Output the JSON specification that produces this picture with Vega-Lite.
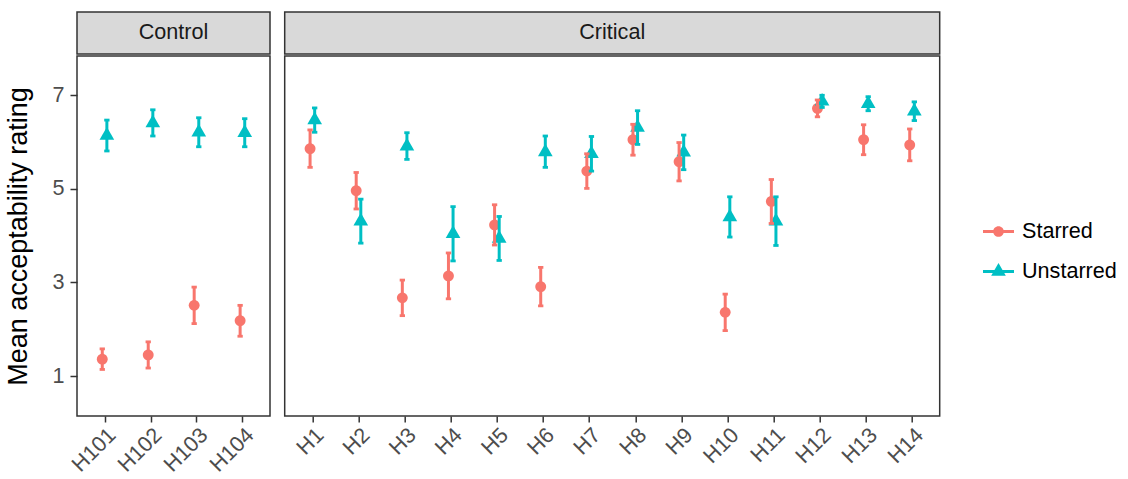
{
  "$schema": "https://vega.github.io/schema/vega-lite/v6.json",
  "padding": {"left": 4, "top": 11, "right": 5, "bottom": 5},
  "background": "white",
  "data": {"values": [
    {"panel": "Control", "item": "H101", "type": "Starred", "mean": 1.36, "lo": 1.14, "hi": 1.58},
    {"panel": "Control", "item": "H101", "type": "Unstarred", "mean": 6.14, "lo": 5.81, "hi": 6.47},
    {"panel": "Control", "item": "H102", "type": "Starred", "mean": 1.45, "lo": 1.17, "hi": 1.73},
    {"panel": "Control", "item": "H102", "type": "Unstarred", "mean": 6.41, "lo": 6.13, "hi": 6.69},
    {"panel": "Control", "item": "H103", "type": "Starred", "mean": 2.51, "lo": 2.12, "hi": 2.90},
    {"panel": "Control", "item": "H103", "type": "Unstarred", "mean": 6.21, "lo": 5.90, "hi": 6.52},
    {"panel": "Control", "item": "H104", "type": "Starred", "mean": 2.18, "lo": 1.85, "hi": 2.51},
    {"panel": "Control", "item": "H104", "type": "Unstarred", "mean": 6.20, "lo": 5.90, "hi": 6.50},
    {"panel": "Critical", "item": "H1", "type": "Starred", "mean": 5.86, "lo": 5.46, "hi": 6.26},
    {"panel": "Critical", "item": "H1", "type": "Unstarred", "mean": 6.47, "lo": 6.21, "hi": 6.73},
    {"panel": "Critical", "item": "H2", "type": "Starred", "mean": 4.96, "lo": 4.57, "hi": 5.35},
    {"panel": "Critical", "item": "H2", "type": "Unstarred", "mean": 4.31, "lo": 3.84, "hi": 4.78},
    {"panel": "Critical", "item": "H3", "type": "Starred", "mean": 2.67, "lo": 2.29, "hi": 3.05},
    {"panel": "Critical", "item": "H3", "type": "Unstarred", "mean": 5.91, "lo": 5.63, "hi": 6.20},
    {"panel": "Critical", "item": "H4", "type": "Starred", "mean": 3.14, "lo": 2.65, "hi": 3.63},
    {"panel": "Critical", "item": "H4", "type": "Unstarred", "mean": 4.04, "lo": 3.46, "hi": 4.62},
    {"panel": "Critical", "item": "H5", "type": "Starred", "mean": 4.23, "lo": 3.80, "hi": 4.66},
    {"panel": "Critical", "item": "H5", "type": "Unstarred", "mean": 3.94, "lo": 3.47, "hi": 4.41},
    {"panel": "Critical", "item": "H6", "type": "Starred", "mean": 2.91, "lo": 2.50, "hi": 3.32},
    {"panel": "Critical", "item": "H6", "type": "Unstarred", "mean": 5.79, "lo": 5.46, "hi": 6.13},
    {"panel": "Critical", "item": "H7", "type": "Starred", "mean": 5.38, "lo": 5.01, "hi": 5.75},
    {"panel": "Critical", "item": "H7", "type": "Unstarred", "mean": 5.75, "lo": 5.38, "hi": 6.12},
    {"panel": "Critical", "item": "H8", "type": "Starred", "mean": 6.05, "lo": 5.72, "hi": 6.38},
    {"panel": "Critical", "item": "H8", "type": "Unstarred", "mean": 6.31, "lo": 5.95, "hi": 6.67},
    {"panel": "Critical", "item": "H9", "type": "Starred", "mean": 5.58, "lo": 5.17, "hi": 5.99},
    {"panel": "Critical", "item": "H9", "type": "Unstarred", "mean": 5.78, "lo": 5.41, "hi": 6.15},
    {"panel": "Critical", "item": "H10", "type": "Starred", "mean": 2.36, "lo": 1.97, "hi": 2.75},
    {"panel": "Critical", "item": "H10", "type": "Unstarred", "mean": 4.40, "lo": 3.97, "hi": 4.83},
    {"panel": "Critical", "item": "H11", "type": "Starred", "mean": 4.73, "lo": 4.26, "hi": 5.20},
    {"panel": "Critical", "item": "H11", "type": "Unstarred", "mean": 4.31, "lo": 3.79, "hi": 4.83},
    {"panel": "Critical", "item": "H12", "type": "Starred", "mean": 6.72, "lo": 6.54, "hi": 6.90},
    {"panel": "Critical", "item": "H12", "type": "Unstarred", "mean": 6.87, "lo": 6.74, "hi": 7.00},
    {"panel": "Critical", "item": "H13", "type": "Starred", "mean": 6.05, "lo": 5.73, "hi": 6.37},
    {"panel": "Critical", "item": "H13", "type": "Unstarred", "mean": 6.82, "lo": 6.67, "hi": 6.97},
    {"panel": "Critical", "item": "H14", "type": "Starred", "mean": 5.94, "lo": 5.60, "hi": 6.28},
    {"panel": "Critical", "item": "H14", "type": "Unstarred", "mean": 6.66, "lo": 6.46, "hi": 6.86}
  ]},
  "spacing": 12.7,
  "hconcat": [
    {
      "spacing": 0,
      "vconcat": [
        {
          "data": {"values": [{"panel": "Control"}]},
          "width": 193,
          "height": 42,
          "view": {"fill": "#D9D9D9", "stroke": "#333333", "strokeWidth": 1.5},
          "mark": {"type": "text", "fontSize": 21.6, "color": "#1A1A1A", "align": "center", "baseline": "middle"},
          "encoding": {"text": {"field": "panel"}}
        },
        {
          "width": 193,
          "height": 360,
          "transform": [{"filter": "datum.panel === 'Control'"}],
          "encoding": {
            "x": {"field": "item", "type": "nominal", "sort": ["H101", "H102", "H103", "H104"], "scale": {"type": "point", "padding": 0.6}, "axis": {"title": null}},
            "xOffset": {"field": "type", "scale": {"type": "point", "domain": ["Starred", "Unstarred"], "range": [-2.3, 2.3], "padding": 0}},
            "color": {"field": "type", "type": "nominal", "scale": {"domain": ["Starred", "Unstarred"], "range": ["#F8766D", "#00BFC4"]},
              "legend": {"title": null, "orient": "none", "legendX": 906, "legendY": 204, "padding": 0, "symbolSize": 961, "symbolStrokeWidth": 0, "symbolOpacity": 1, "labelFontSize": 21.6, "labelColor": "#000000", "labelOffset": 8, "rowPadding": 13,
                "symbolType": {"expr": "datum.value === 'Starred' ? 'M-1,-0.1H1V0.1H-1Z M0.345,0A0.345,0.345 0 1,1 -0.345,0A0.345,0.345 0 1,1 0.345,0Z' : 'M-1,-0.1H1V0.1H-1Z M0,-0.546L0.473,0.273L-0.473,0.273Z'"}}},
            "y": {"field": "mean", "type": "quantitative", "scale": {"domain": [0.145, 7.84], "nice": false, "zero": false}, "axis": {"title": "Mean acceptability rating", "values": [1, 3, 5, 7]}}
          },
          "layer": [
            {
              "transform": [{"filter": "datum.type === 'Starred'"}],
              "mark": {"type": "point", "filled": true, "opacity": 1, "size": 287, "shape": "M0.64,0A0.64,0.64 0 1,1 -0.64,0A0.64,0.64 0 1,1 0.64,0Z"}
            },
            {
              "transform": [{"filter": "datum.type === 'Unstarred'"}],
              "mark": {"type": "point", "filled": true, "opacity": 1, "size": 287, "shape": "M0,-1L0.866,0.5L-0.866,0.5Z"}
            },
            {
              "mark": {"type": "rule", "strokeWidth": 3},
              "encoding": {"y": {"field": "lo", "type": "quantitative"}, "y2": {"field": "hi"}}
            },
            {
              "mark": {"type": "tick", "thickness": 2.8, "size": 5.3, "opacity": 1},
              "encoding": {"y": {"field": "lo", "type": "quantitative"}}
            },
            {
              "mark": {"type": "tick", "thickness": 2.8, "size": 5.3, "opacity": 1},
              "encoding": {"y": {"field": "hi", "type": "quantitative"}}
            }
          ]
        }
      ]
    },
    {
      "spacing": 0,
      "vconcat": [
        {
          "data": {"values": [{"panel": "Critical"}]},
          "width": 655,
          "height": 42,
          "view": {"fill": "#D9D9D9", "stroke": "#333333", "strokeWidth": 1.5},
          "mark": {"type": "text", "fontSize": 21.6, "color": "#1A1A1A", "align": "center", "baseline": "middle"},
          "encoding": {"text": {"field": "panel"}}
        },
        {
          "width": 655,
          "height": 360,
          "transform": [{"filter": "datum.panel === 'Critical'"}],
          "encoding": {
            "x": {"field": "item", "type": "nominal", "sort": ["H1", "H2", "H3", "H4", "H5", "H6", "H7", "H8", "H9", "H10", "H11", "H12", "H13", "H14"], "scale": {"type": "point", "padding": 0.6}, "axis": {"title": null}},
            "xOffset": {"field": "type", "scale": {"type": "point", "domain": ["Starred", "Unstarred"], "range": [-2.3, 2.3], "padding": 0}},
            "color": {"field": "type", "type": "nominal",
              "legend": {"title": null, "orient": "none", "legendX": 906, "legendY": 204, "padding": 0, "symbolSize": 961, "symbolStrokeWidth": 0, "symbolOpacity": 1, "labelFontSize": 21.6, "labelColor": "#000000", "labelOffset": 8, "rowPadding": 13,
                "symbolType": {"expr": "datum.value === 'Starred' ? 'M-1,-0.1H1V0.1H-1Z M0.345,0A0.345,0.345 0 1,1 -0.345,0A0.345,0.345 0 1,1 0.345,0Z' : 'M-1,-0.1H1V0.1H-1Z M0,-0.546L0.473,0.273L-0.473,0.273Z'"}}},
            "y": {"field": "mean", "type": "quantitative", "scale": {"domain": [0.145, 7.84], "nice": false, "zero": false}, "axis": null}
          },
          "layer": [
            {
              "transform": [{"filter": "datum.type === 'Starred'"}],
              "mark": {"type": "point", "filled": true, "opacity": 1, "size": 287, "shape": "M0.64,0A0.64,0.64 0 1,1 -0.64,0A0.64,0.64 0 1,1 0.64,0Z"}
            },
            {
              "transform": [{"filter": "datum.type === 'Unstarred'"}],
              "mark": {"type": "point", "filled": true, "opacity": 1, "size": 287, "shape": "M0,-1L0.866,0.5L-0.866,0.5Z"}
            },
            {
              "mark": {"type": "rule", "strokeWidth": 3},
              "encoding": {"y": {"field": "lo", "type": "quantitative"}, "y2": {"field": "hi"}}
            },
            {
              "mark": {"type": "tick", "thickness": 2.8, "size": 5.3, "opacity": 1},
              "encoding": {"y": {"field": "lo", "type": "quantitative"}}
            },
            {
              "mark": {"type": "tick", "thickness": 2.8, "size": 5.3, "opacity": 1},
              "encoding": {"y": {"field": "hi", "type": "quantitative"}}
            }
          ]
        }
      ]
    }
  ],
  "config": {
    "font": "Liberation Sans",
    "view": {"stroke": "#333333", "strokeWidth": 1.5},
    "axis": {"grid": false, "domain": false, "tickColor": "#333333", "tickWidth": 1.5, "labelFontSize": 21.6, "labelColor": "#4D4D4D", "labelFont": "Liberation Sans", "titleFont": "Liberation Sans"},
    "axisX": {"labelAngle": -45, "tickSize": 6, "labelPadding": 2},
    "axisY": {"tickSize": 7, "labelPadding": 6, "titleFontSize": 27, "titleFontWeight": "normal", "titleColor": "#000000", "titlePadding": 19},
    "legend": {"labelFont": "Liberation Sans"}
  }
}
